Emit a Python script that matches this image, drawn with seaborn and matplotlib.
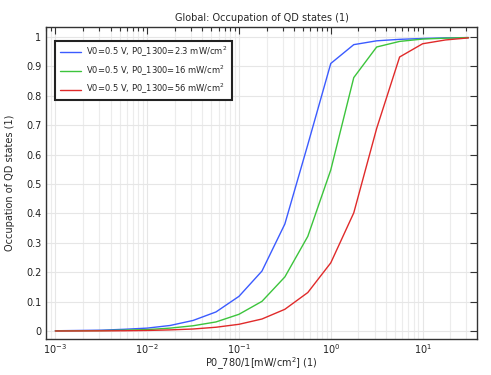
import numpy as np
import pandas as pd
import matplotlib
matplotlib.use("Agg")
import matplotlib.pyplot as plt
import matplotlib.ticker as mticker
import seaborn as sns

# sweep values of P0_780 (mW/cm^2), 4 points per decade
p0_780 = [0.001, 0.00178, 0.00316, 0.00562, 0.01, 0.0178, 0.0316, 0.0562,
          0.1, 0.178, 0.316, 0.562, 1.0, 1.78, 3.16, 5.62, 10.0, 17.8, 31.6]

# occupation of QD states for each P0_1300 level
occ_2p3 = [0.001, 0.002, 0.003, 0.006, 0.010, 0.019, 0.036, 0.065,
           0.118, 0.204, 0.364, 0.634, 0.910, 0.974, 0.987, 0.992, 0.995, 0.997, 0.998]
occ_16 = [0.0005, 0.001, 0.0015, 0.003, 0.005, 0.010, 0.018, 0.031,
          0.057, 0.101, 0.184, 0.322, 0.548, 0.862, 0.966, 0.985, 0.993, 0.996, 0.998]
occ_56 = [0.0002, 0.0004, 0.0007, 0.001, 0.002, 0.004, 0.007, 0.013,
          0.023, 0.041, 0.074, 0.131, 0.232, 0.402, 0.689, 0.932, 0.977, 0.990, 0.997]

labels = ["V0=0.5 V, P0_1300=2.3 mW/cm$^2$",
          "V0=0.5 V, P0_1300=16 mW/cm$^2$",
          "V0=0.5 V, P0_1300=56 mW/cm$^2$"]
colors = ["#3b5bff", "#3cc43c", "#e02a2a"]

df = pd.DataFrame({
    "x": p0_780 * 3,
    "y": occ_2p3 + occ_16 + occ_56,
    "series": [labels[0]] * len(p0_780) + [labels[1]] * len(p0_780) + [labels[2]] * len(p0_780),
})

sns.set_style("white")
plt.rcParams["font.family"] = ["DejaVu Sans"]
plt.rcParams["font.size"] = 7

fig = plt.figure(figsize=(4.91, 3.75), dpi=100)
ax = fig.add_axes([0.094, 0.096, 0.877, 0.832])

sns.lineplot(data=df, x="x", y="y", hue="series", palette=colors,
             linewidth=1.0, ax=ax)

ax.set_xscale("log")
ax.set_xlim(10 ** -3.1, 10 ** 1.59)
ax.set_ylim(-0.027, 1.034)
ax.yaxis.set_major_locator(mticker.MultipleLocator(0.1))
ax.yaxis.set_major_formatter(mticker.FuncFormatter(lambda v, p: f"{v:g}"))
ax.xaxis.set_major_locator(mticker.LogLocator(base=10, numticks=10))
ax.xaxis.set_minor_locator(mticker.LogLocator(base=10, subs=np.arange(2, 10), numticks=20))

ax.grid(True, which="major", color="#e6e6e6", linewidth=0.8)
ax.grid(True, which="minor", axis="x", color="#ececec", linewidth=0.8)
ax.set_axisbelow(True)

ax.tick_params(which="both", direction="in", top=True, right=True,
               colors="#333333", labelcolor="#222222", labelsize=7)
ax.tick_params(which="major", length=5, width=0.8)
ax.tick_params(which="minor", length=3, width=0.8)
ax.tick_params(axis="x", which="major", pad=2)
for s in ax.spines.values():
    s.set_color("#333333")
    s.set_linewidth(1.0)

ax.set_title("Global: Occupation of QD states (1)", fontsize=7, pad=4)
ax.set_xlabel("P0_780/1[mW/cm$^2$] (1)", fontsize=7, labelpad=0)
ax.set_ylabel("Occupation of QD states (1)", fontsize=7, labelpad=8)

leg = ax.legend(loc="upper left", bbox_to_anchor=(0.012, 0.97), fontsize=6,
                frameon=True, fancybox=False, handlelength=2.6,
                handletextpad=0.6, borderpad=0.5, labelspacing=0.55,
                edgecolor="#222222")
leg.get_frame().set_linewidth(1.5)
leg.get_frame().set_alpha(1)

fig.savefig("out.png", dpi=100)
